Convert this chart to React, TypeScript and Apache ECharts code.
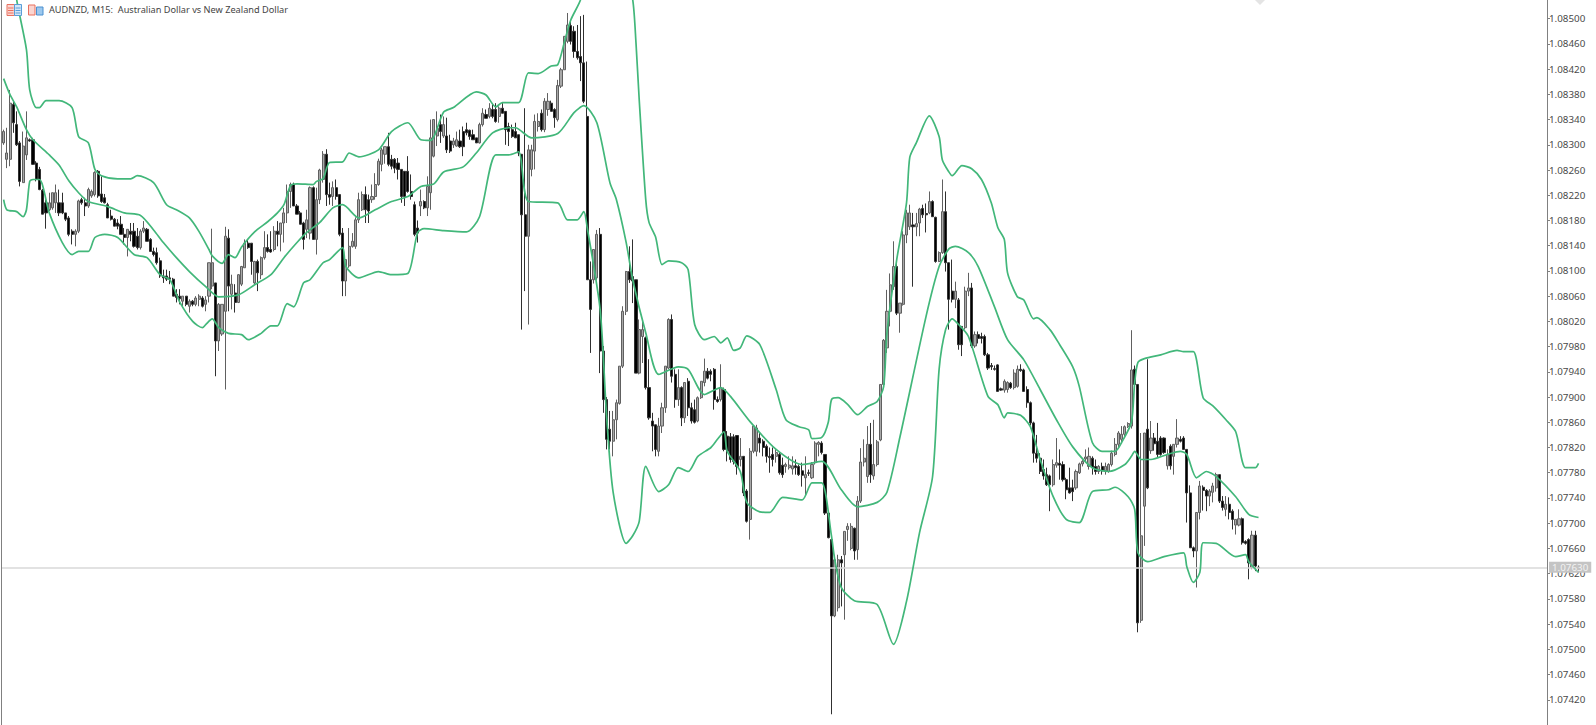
import React, { useEffect, useRef } from "react";
import * as echarts from "echarts";

// Prices are written as hundred-thousandths above 1.0 (8320 = 1.08320). Rows: open, high, low, close.
const candlesA = [
[8303,8324,8300,8321],[8277,8327,8263,8287],[8277,8387,8266,8366],[8364,8368,8319,8335],[8332,8353,8298,8300],[8303,8306,8234,8242],[8240,8321,8240,8298],[8284,8353,8276,8311],[8308,8310,8305,8306],[8308,8311,8268,8269],
[8271,8274,8242,8245],[8261,8265,8228,8229],[8228,8230,8190,8190],[8208,8213,8167,8192],[8197,8224,8195,8208],[8200,8224,8197,8224],[8208,8237,8192,8224],[8208,8229,8187,8192],[8208,8224,8190,8192],[8192,8192,8179,8182],
[8184,8187,8155,8158],[8163,8166,8142,8158],[8158,8166,8139,8163],[8163,8213,8160,8211],[8213,8216,8205,8208],[8208,8216,8187,8203],[8203,8232,8200,8229],[8219,8229,8216,8226],[8221,8258,8218,8256],[8258,8260,8216,8219],
[8222,8250,8208,8210],[8216,8222,8207,8208],[8205,8208,8184,8184],[8187,8197,8180,8182],[8182,8184,8171,8171],[8176,8182,8166,8171],[8174,8187,8158,8158],[8158,8168,8142,8153],[8153,8166,8123,8166],[8163,8176,8147,8158],
[8163,8176,8137,8139],[8155,8168,8134,8137],[8137,8166,8134,8163],[8163,8179,8160,8168],[8166,8168,8147,8147],[8150,8152,8131,8131],[8131,8137,8123,8126],[8129,8137,8110,8113],[8116,8121,8089,8092],[8092,8102,8081,8089],
];
const candlesB = [
[8092,8102,8084,8087],[8089,8100,8079,8087],[8087,8089,8060,8060],[8063,8071,8050,8058],[8060,8071,8047,8056],[8052,8060,8042,8060],[8060,8060,8044,8047],[8044,8055,8034,8052],[8052,8054,8044,8047],[8047,8060,8044,8057],
[8055,8063,8044,8060],[8057,8060,8042,8044],[8047,8060,8036,8054],[8060,8113,8050,8113],[8076,8167,8071,8113],[8081,8081,7933,7989],[7989,8049,7973,8047],[8000,8047,7997,8047],[8036,8170,7912,8155],[8152,8166,8036,8076],
[8063,8094,8039,8079],[8065,8079,8034,8050],[8050,8095,8049,8094],[8079,8108,8076,8107],[8105,8150,8105,8144],[8144,8150,8135,8137],[8144,8144,8094,8115],[8081,8116,8079,8115],[8115,8118,8068,8097],[8094,8123,8087,8121],
[8121,8163,8118,8137],[8137,8158,8129,8131],[8134,8163,8129,8130],[8134,8171,8131,8163],[8163,8179,8139,8158],[8158,8176,8131,8176],[8176,8200,8145,8192],[8192,8237,8176,8226],[8226,8240,8200,8237],[8237,8240,8203,8203],
[8203,8206,8190,8190],[8192,8195,8174,8174],[8176,8178,8134,8150],[8166,8197,8152,8181],[8160,8234,8150,8232],[8232,8234,8150,8150],[8150,8232,8126,8213],[8213,8262,8206,8260],[8245,8290,8240,8285],[8285,8293,8203,8221],
];
const candlesC = [
[8221,8240,8205,8217],[8218,8242,8203,8232],[8232,8245,8213,8218],[8221,8221,8155,8158],[8160,8168,8060,8084],[8084,8118,8060,8118],[8108,8168,8105,8139],[8139,8160,8137,8147],[8139,8185,8135,8181],[8181,8224,8176,8213],
[8197,8226,8195,8221],[8221,8234,8176,8197],[8213,8221,8176,8195],[8213,8237,8208,8218],[8218,8255,8213,8237],[8237,8278,8235,8274],[8269,8295,8258,8292],[8285,8297,8270,8297],[8297,8319,8266,8269],[8277,8284,8261,8266],
[8277,8279,8255,8263],[8271,8279,8245,8261],[8261,8261,8208,8218],[8258,8258,8203,8218],[8258,8282,8224,8226],[8226,8253,8213,8218],[8205,8210,8155,8158],[8168,8180,8145,8160],[8203,8229,8187,8210],[8210,8212,8198,8200],
[8200,8250,8187,8234],[8224,8340,8197,8311],[8282,8340,8280,8340],[8314,8353,8298,8326],[8332,8348,8303,8321],[8314,8345,8311,8332],[8314,8343,8287,8292],[8306,8316,8287,8290],[8300,8311,8295,8306],[8298,8321,8297,8308],
[8306,8324,8295,8297],[8321,8329,8282,8297],[8324,8335,8315,8319],[8323,8324,8308,8313],[8316,8324,8308,8308],[8311,8311,8303,8303],[8303,8335,8302,8332],[8332,8358,8329,8350],[8348,8356,8342,8342],[8345,8366,8342,8358],
];
const candlesD = [
[8356,8366,8342,8345],[8356,8366,8335,8337],[8345,8361,8335,8358],[8358,8366,8350,8350],[8353,8353,8300,8324],[8329,8335,8298,8321],[8324,8332,8311,8313],[8321,8335,8311,8311],[8316,8316,8282,8287],[8285,8285,8007,8189],
[8189,8358,8068,8155],[8155,8300,8015,8292],[8261,8300,8250,8292],[8290,8348,8261,8337],[8329,8350,8321,8337],[8350,8356,8321,8324],[8324,8374,8320,8369],[8356,8382,8346,8369],[8366,8370,8353,8353],[8356,8358,8327,8343],
[8340,8403,8337,8394],[8393,8422,8390,8419],[8419,8472,8419,8472],[8464,8509,8461,8490],[8489,8498,8459,8464],[8480,8488,8438,8448],[8448,8490,8435,8438],[8440,8504,8401,8430],[8430,8506,8366,8369],[8345,8432,8086,8086],
[8086,8115,7970,8039],[8086,8134,8080,8134],[8089,8165,8086,8158],[8158,8168,7938,7973],[7973,7981,7875,7896],[7896,7900,7817,7833],[7849,7878,7817,7830],[7830,7878,7806,7864],[7864,7896,7833,7891],[7890,7949,7888,7949],
[7949,8044,7946,8036],[8036,8100,8030,8099],[8099,8139,8081,8086],[8091,8150,8049,8084],[8086,8086,7938,7938],[7938,8023,7936,8007],[7996,8023,7954,8007],[7994,7996,7912,7915],[7915,7960,7864,7867],[7862,7875,7814,7854],
];
const candlesE = [
[7856,7856,7806,7817],[7814,7867,7806,7854],[7854,7891,7843,7883],[7883,7949,7875,7949],[7946,8025,7944,8023],[8023,8031,7923,7933],[7936,7944,7883,7896],[7896,7944,7886,7915],[7915,7917,7854,7867],[7867,7923,7859,7923],
[7925,7930,7870,7883],[7883,7891,7858,7862],[7880,7896,7858,7860],[7862,7901,7860,7899],[7899,7925,7897,7925],[7923,7961,7917,7941],[7941,7946,7928,7930],[7941,7944,7925,7936],[7944,7946,7880,7896],[7896,7901,7891,7893],
[7896,7952,7893,7915],[7912,7915,7814,7817],[7838,7846,7798,7814],[7837,7843,7796,7801],[7837,7841,7793,7798],[7839,7839,7777,7790],[7801,7835,7790,7806],[7806,7806,7743,7748],[7751,7754,7701,7703],[7706,7819,7674,7814],
[7814,7854,7811,7854],[7814,7856,7806,7851],[7835,7843,7812,7827],[7830,7833,7806,7820],[7822,7825,7796,7806],[7806,7820,7780,7804],[7809,7820,7790,7801],[7806,7817,7796,7812],[7809,7812,7777,7780],[7792,7804,7772,7777],
[7790,7796,7780,7793],[7788,7806,7785,7792],[7786,7806,7777,7791],[7791,7801,7777,7788],[7790,7793,7775,7777],[7783,7796,7758,7776],[7772,7806,7744,7777],[7780,7785,7775,7779],[7772,7797,7770,7793],[7796,7830,7793,7827],
];
const candlesF = [
[7825,7830,7806,7828],[7827,7830,7809,7812],[7809,7809,7713,7716],[7716,7718,7676,7677],[7674,7676,7397,7553],[7553,7650,7551,7642],[7566,7650,7560,7642],[7642,7648,7568,7637],[7650,7687,7547,7687],[7690,7700,7672,7695],
[7660,7700,7657,7695],[7692,7693,7642,7656],[7658,7743,7642,7735],[7735,7819,7732,7797],[7797,7833,7790,7803],[7774,7854,7764,7825],[7825,7859,7764,7777],[7775,7864,7769,7793],[7793,7832,7790,7829],[7832,7920,7830,7920],
[7920,7992,7915,7990],[7978,8070,7970,8036],[8036,8096,8012,8078],[8075,8147,8070,8107],[8107,8115,8030,8033],[8033,8049,8002,8049],[8047,8163,8045,8157],[8157,8197,8144,8192],[8170,8205,8165,8192],[8173,8192,8075,8170],
[8170,8192,8155,8175],[8176,8200,8155,8198],[8199,8205,8184,8189],[8191,8207,8161,8189],[8192,8226,8190,8210],[8210,8212,8186,8186],[8185,8186,8113,8115],[8115,8131,8114,8129],[8129,8245,8127,8194],[8194,8226,8099,8113],
[8113,8113,8007,8055],[8068,8118,8050,8055],[8055,8083,8041,8068],[8054,8057,7975,7983],[8012,8012,7965,7983],[8010,8075,8007,8068],[8068,8097,8060,8073],[8073,8081,7978,7981],[7981,8004,7978,7999],[7999,8004,7985,7993],
];
const candlesG = [
[7996,8002,7985,7993],[7996,7999,7965,7967],[7967,7970,7943,7946],[7950,7954,7943,7948],[7945,7950,7942,7944],[7951,7952,7909,7909],[7913,7915,7910,7911],[7911,7928,7907,7925],[7912,7925,7907,7923],[7922,7924,7913,7915],
[7915,7944,7912,7938],[7917,7950,7915,7944],[7944,7952,7940,7942],[7943,7945,7909,7909],[7912,7917,7883,7891],[7891,7893,7855,7859],[7859,7861,7796,7811],[7811,7840,7796,7803],[7803,7811,7778,7782],[7785,7801,7769,7775],
[7777,7788,7759,7761],[7775,7777,7719,7761],[7761,7801,7758,7793],[7792,7835,7788,7796],[7795,7817,7769,7792],[7793,7798,7766,7769],[7769,7772,7738,7753],[7756,7788,7747,7748],[7756,7769,7735,7750],[7756,7785,7753,7782],
[7780,7796,7778,7794],[7794,7800,7790,7798],[7802,7817,7798,7805],[7790,7820,7785,7806],[7803,7806,7777,7788],[7790,7801,7777,7782],[7782,7792,7778,7790],[7790,7796,7777,7783],[7783,7796,7777,7790],[7782,7795,7780,7793],
];
const candlesH = [
[7793,7815,7790,7811],[7809,7835,7806,7825],[7825,7846,7820,7843],[7833,7854,7828,7841],[7841,7855,7838,7853],[7853,7860,7851,7858],[7854,8006,7850,7943],[7944,7950,7920,7920],[7920,7920,7527,7542],[7546,7843,7542,7680],
[7727,7843,7664,7843],[7849,7960,7754,7756],[7815,7862,7810,7835],[7835,7843,7815,7826],[7830,7859,7805,7809],[7835,7838,7807,7809],[7835,7836,7810,7812],[7791,7817,7785,7809],[7822,7825,7785,7791],[7806,7825,7777,7825],
[7825,7865,7820,7835],[7833,7838,7828,7830],[7835,7838,7817,7817],[7817,7817,7701,7748],[7748,7760,7661,7661],[7661,7663,7646,7656],[7656,7717,7598,7717],[7717,7767,7706,7759],[7757,7760,7720,7752],[7752,7754,7719,7743],
[7743,7754,7727,7751],[7749,7764,7733,7759],[7756,7780,7750,7777],[7777,7777,7732,7735],[7735,7743,7720,7725],[7722,7743,7711,7730],[7730,7741,7706,7717],[7719,7722,7690,7706],[7697,7706,7682,7706],[7697,7722,7695,7707],
[7707,7709,7666,7669],[7671,7673,7666,7668],[7674,7676,7611,7637],[7630,7688,7627,7681],[7681,7688,7624,7632],[7630,7633,7622,7629],
];

// Bollinger bands: [bar index, price in the same units], read at the bends of each curve.
const upperBand = [
[2,8609],[4,8530],[7,8451],[8,8387],[10,8359],[11,8359],[13,8370],[17,8370],[21,8359],[23,8313],[26,8303],[28,8261],[30,8251],[35,8246],[39,8246],[41,8251],[46,8240],[50,8205],[53,8197],[57,8184],[60,8162],[63,8134],[64,8124],[67,8112],[69,8126],[71,8121],[73,8138],[77,8162],[81,8178],[84,8192],[86,8205],[88,8235],[90,8238],[95,8237],[96,8242],[98,8246],[100,8272],[104,8273],[106,8287],[109,8281],[115,8292],[119,8321],[124,8335],[128,8308],[131,8307],[135,8352],[138,8359],[145,8384],[148,8379],[151,8360],[153,8367],[158,8367],[161,8414],[164,8413],[168,8425],[170,8427],[172,8462],[174,8498],[177,8530],[180,8593],[185,8641],[189,8625],[193,8530],[194,8462],[195,8371],[197,8213],[198,8177],[200,8154],[202,8110],[204,8116],[208,8113],[210,8102],[212,8015],[215,7991],[218,7996],[220,7986],[222,7994],[224,7974],[226,7978],[228,7997],[232,7983],[237,7912],[240,7864],[244,7853],[247,7848],[248,7834],[251,7836],[253,7860],[254,7896],[256,7899],[259,7888],[262,7872],[265,7885],[268,7893],[270,7917],[271,8002],[274,8118],[277,8208],[278,8280],[280,8303],[284,8346],[287,8313],[288,8276],[290,8257],[291,8251],[294,8267],[297,8262],[300,8245],[303,8208],[305,8169],[307,8150],[308,8097],[311,8059],[313,8054],[316,8024],[317,8026],[321,8007],[324,7983],[328,7948],[330,7917],[334,7828],[337,7814],[341,7814],[343,7828],[346,7860],[347,7923],[348,7955],[350,7961],[355,7967],[360,7974],[362,7972],[365,7972],[368,7899],[371,7886],[375,7864],[378,7845],[381,7788],[384,7788],[385,7795],
];
const middleBand = [
[0,8405],[2,8379],[4,8360],[7,8324],[9,8308],[14,8284],[17,8268],[20,8243],[23,8224],[26,8210],[32,8202],[37,8192],[42,8188],[46,8165],[49,8145],[53,8121],[57,8099],[62,8075],[66,8059],[72,8062],[77,8078],[82,8094],[86,8121],[90,8145],[93,8161],[97,8177],[101,8200],[104,8205],[109,8184],[114,8197],[119,8210],[124,8218],[128,8234],[132,8238],[135,8257],[141,8265],[145,8287],[150,8319],[155,8327],[157,8327],[162,8311],[170,8318],[175,8351],[178,8362],[182,8335],[186,8240],[188,8213],[191,8145],[193,8086],[197,8002],[201,7936],[207,7948],[210,7944],[215,7904],[220,7915],[223,7901],[229,7861],[237,7817],[245,7793],[251,7798],[257,7753],[262,7726],[268,7733],[271,7749],[275,7837],[283,8028],[287,8107],[290,8135],[292,8139],[296,8129],[299,8107],[304,8043],[308,7991],[313,7959],[318,7912],[323,7864],[328,7821],[334,7788],[339,7782],[344,7793],[346,7806],[347,7814],[349,7801],[352,7801],[357,7809],[361,7814],[363,7809],[366,7772],[369,7782],[372,7774],[378,7742],[382,7714],[385,7709],
];
const lowerBand = [
[0,8213],[1,8197],[4,8194],[6,8186],[7,8197],[8,8242],[9,8245],[11,8245],[14,8192],[18,8145],[21,8126],[23,8131],[26,8131],[28,8153],[31,8158],[35,8153],[40,8126],[44,8121],[48,8094],[51,8086],[54,8051],[58,8020],[61,8010],[62,8015],[64,8024],[66,8010],[69,8001],[73,7999],[75,7991],[79,8001],[82,8013],[84,8013],[87,8048],[89,8043],[92,8081],[94,8086],[98,8113],[100,8118],[104,8137],[105,8107],[109,8089],[115,8099],[119,8094],[124,8096],[127,8161],[129,8167],[135,8164],[142,8162],[146,8186],[151,8284],[155,8284],[158,8289],[161,8210],[170,8208],[173,8181],[176,8181],[178,8194],[179,8170],[183,8039],[185,7869],[187,7749],[191,7668],[193,7680],[195,7703],[197,7790],[201,7750],[204,7761],[207,7788],[210,7782],[213,7806],[217,7820],[219,7833],[221,7845],[222,7814],[226,7782],[228,7733],[232,7718],[235,7717],[239,7741],[245,7737],[248,7764],[251,7764],[254,7679],[255,7642],[257,7598],[261,7577],[268,7571],[273,7508],[277,7576],[281,7685],[285,7774],[287,7944],[289,8007],[291,8024],[293,8015],[296,7996],[302,7901],[305,7888],[307,7867],[308,7875],[312,7871],[315,7853],[318,7801],[322,7742],[326,7706],[330,7701],[334,7750],[339,7753],[341,7757],[345,7742],[347,7722],[348,7653],[351,7639],[356,7647],[362,7653],[363,7631],[365,7606],[367,7622],[368,7669],[372,7668],[378,7647],[381,7650],[382,7639],[385,7622],
];

const chartTitle = "AUDNZD, M15:  Australian Dollar vs New Zealand Dollar";
const lastPrice = 1.0763;
const axisMin = 1.0738;
const axisMax = 1.085296;
const tickStep = 0.0004;
const barSlots = 474;

const toPrice = (u: number) => 1 + u / 100000;
const allCandles = [...candlesA, ...candlesB, ...candlesC, ...candlesD, ...candlesE, ...candlesF, ...candlesG, ...candlesH];
const candleData = allCandles.map(([o, h, l, c]) => [
  toPrice(o),
  toPrice(c),
  toPrice(Math.min(l, o, c)),
  toPrice(Math.max(h, o, c)),
]);
const bandSeries = (name: string, rows: number[][]) => ({
  name,
  type: "line",
  data: rows.map(([i, u]) => [i, toPrice(u)]),
  showSymbol: false,
  smooth: 0.25,
  z: 5,
  lineStyle: { color: "#42b77a", width: 1.7 },
  silent: true,
});

export default function App() {
  const ref = useRef<HTMLDivElement>(null);
  useEffect(() => {
    document.body.style.margin = "0";
    const chart = echarts.init(ref.current!, undefined, { renderer: "svg" });
    chart.setOption({
      animation: false,
      backgroundColor: "#ffffff",
      grid: { left: 2, top: 0, width: 1545, height: 725, containLabel: false },
      xAxis: {
        type: "category",
        data: Array.from({ length: barSlots }, (_, i) => String(i)),
        show: false,
        boundaryGap: true,
      },
      yAxis: {
        type: "value",
        position: "right",
        min: axisMin,
        max: axisMax,
        interval: tickStep,
        scale: true,
        splitLine: { show: false },
        axisLine: { show: true, onZero: false, lineStyle: { color: "#808080", width: 1 } },
        axisTick: { show: true, length: 3, lineStyle: { color: "#808080" } },
        axisLabel: {
          showMinLabel: false,
          showMaxLabel: false,
          margin: 2,
          fontFamily: "Noto Sans",
          fontSize: 9.8,
          color: "#4a4a4a",
          formatter: (v: number) => v.toFixed(5),
        },
      },
      series: [
        {
          name: "Last price",
          type: "line",
          data: [[0, lastPrice]],
          showSymbol: false,
          silent: true,
          z: 2,
          lineStyle: { opacity: 0 },
          markLine: {
            silent: true,
            symbol: "none",
            animation: false,
            precision: 5,
            lineStyle: { color: "#d8d8d8", width: 1.5, type: "solid" },
            label: {
              show: true,
              position: "end",
              distance: 2,
              formatter: "1.07630",
              fontFamily: "Noto Sans",
              fontSize: 9.8,
              color: "#f2f2f2",
              backgroundColor: "#c4c4c4",
              padding: [0, 3, 0, 3],
              lineHeight: 11,
            },
            data: [{ yAxis: lastPrice }],
          },
        },
        {
          name: "AUDNZD",
          type: "candlestick",
          data: candleData,
          barWidth: 2.6,
          clip: true,
          z: 3,
          itemStyle: {
            color: "#a8a8a8",
            color0: "#000000",
            borderColor: "#606060",
            borderColor0: "#303030",
            borderWidth: 1,
          },
        },
        bandSeries("Upper", upperBand),
        bandSeries("Middle", middleBand),
        bandSeries("Lower", lowerBand),
      ],
      graphic: [
        { type: "line", shape: { x1: 1.5, y1: 0, x2: 1.5, y2: 725 }, style: { stroke: "#808080", lineWidth: 1 }, z: 10 },
        { type: "polygon", shape: { points: [[1255, 0], [1265, 0], [1260, 5]] }, style: { fill: "#e4e4e4" } },
        {
          type: "text",
          x: 49,
          y: 4.5,
          style: { text: chartTitle, font: "9.2px 'Noto Sans'", fill: "#444444" },
          z: 10,
        },
        // Toolbar icons beside the title
        { type: "rect", shape: { x: 7, y: 4.5, width: 7.5, height: 11 }, style: { fill: "#fbd5d0", stroke: "#e8705f", lineWidth: 1 }, z: 10 },
        { type: "rect", shape: { x: 14.5, y: 4.5, width: 7, height: 11 }, style: { fill: "#d3e6f7", stroke: "#5a9fd8", lineWidth: 1 }, z: 10 },
        { type: "line", shape: { x1: 8, y1: 8, x2: 13.5, y2: 8 }, style: { stroke: "#e8705f", lineWidth: 1 }, z: 11 },
        { type: "line", shape: { x1: 8, y1: 10.5, x2: 13.5, y2: 10.5 }, style: { stroke: "#e8705f", lineWidth: 1 }, z: 11 },
        { type: "line", shape: { x1: 8, y1: 13, x2: 13.5, y2: 13 }, style: { stroke: "#e8705f", lineWidth: 1 }, z: 11 },
        { type: "line", shape: { x1: 15.5, y1: 8, x2: 20.5, y2: 8 }, style: { stroke: "#5a9fd8", lineWidth: 1 }, z: 11 },
        { type: "line", shape: { x1: 15.5, y1: 10.5, x2: 20.5, y2: 10.5 }, style: { stroke: "#5a9fd8", lineWidth: 1 }, z: 11 },
        { type: "line", shape: { x1: 15.5, y1: 13, x2: 20.5, y2: 13 }, style: { stroke: "#5a9fd8", lineWidth: 1 }, z: 11 },
        { type: "rect", shape: { x: 28.5, y: 5, width: 6.5, height: 10 }, style: { fill: "#fbd5d0", stroke: "#e8705f", lineWidth: 1 }, z: 10 },
        { type: "rect", shape: { x: 36.5, y: 7, width: 6.5, height: 8 }, style: { fill: "#9cc8ee", stroke: "#4a90d0", lineWidth: 1 }, z: 10 },
      ],
    });
    return () => chart.dispose();
  }, []);
  return <div ref={ref} style={{ width: 1596, height: 725, position: "absolute", left: 0, top: 0 }} />;
}
